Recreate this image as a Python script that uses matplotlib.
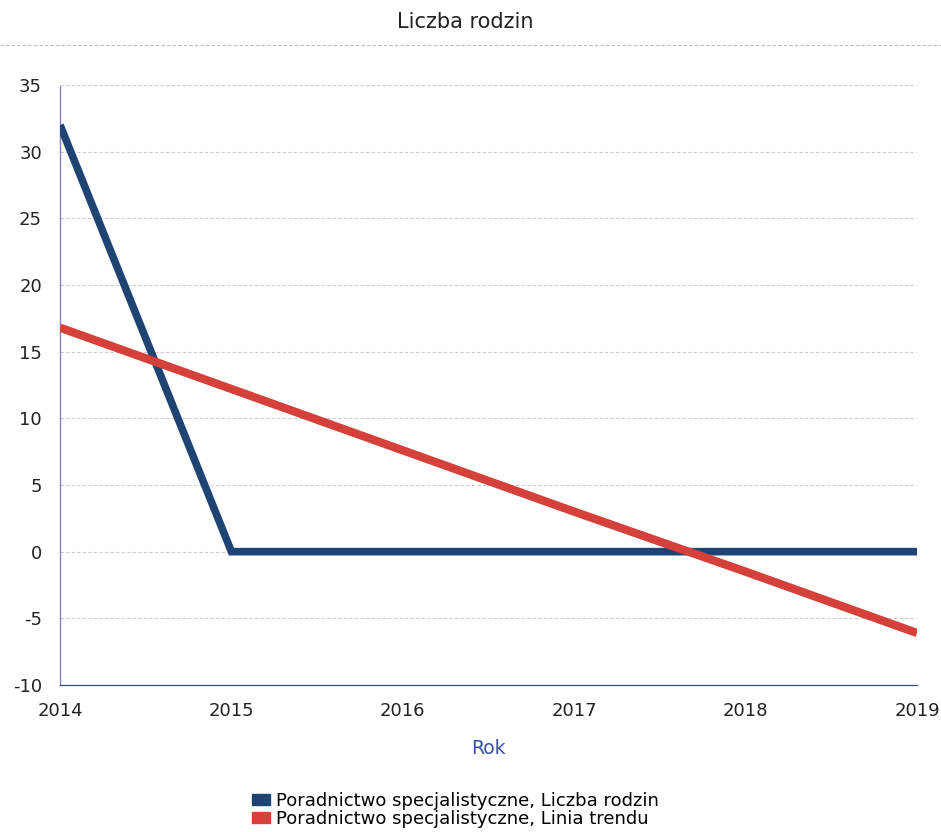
import matplotlib
matplotlib.use("Agg")
import matplotlib.pyplot as plt
from matplotlib.patches import Patch
from matplotlib.lines import Line2D

years = [2014, 2015, 2016, 2017, 2018, 2019]
liczba_rodzin = [32, 0, 0, 0, 0, 0]
linia_trendu = [16.8, 12.2, 7.6, 3.0, -1.5, -6.1]
yticks = [-10, -5, 0, 5, 10, 15, 20, 25, 30, 35]
title = "Liczba rodzin"
xlabel = "Rok"
labels = ["Poradnictwo specjalistyczne, Liczba rodzin",
          "Poradnictwo specjalistyczne, Linia trendu"]
c_blue = "#1f4474"
c_red = "#d6403a"

plt.rcParams['font.family'] = ['DejaVu Sans']
plt.rcParams['axes.unicode_minus'] = False
fig = plt.figure(figsize=(9.41, 8.32), dpi=100)
ax = fig.add_axes([0.0638, 0.1767, 0.9107, 0.7211])

ax.plot(years, liczba_rodzin, color=c_blue, lw=5.5, solid_capstyle='butt', solid_joinstyle='miter', zorder=3)
ax.plot(years, linia_trendu, color=c_red, lw=6, solid_capstyle='butt', zorder=4)

ax.set_xlim(2014, 2019)
ax.set_ylim(-10, 35)
ax.set_yticks(yticks)
ax.set_xticks(years)
ax.set_xticklabels([str(y) for y in years])
ax.grid(axis='y', color='#cccccc', linestyle=(0, (3, 2)), lw=0.8)
ax.tick_params(axis='both', length=0, labelsize=13, colors='#222222')
ax.tick_params(axis='y', pad=13)
ax.tick_params(axis='x', pad=12)
for s in ['top', 'right']:
    ax.spines[s].set_visible(False)
ax.spines['left'].set_color('#8a7fc0')
ax.spines['left'].set_linestyle((0, (1, 1)))
ax.spines['left'].set_linewidth(1.0)
ax.spines['bottom'].set_color('#3a4a7a')
ax.spines['bottom'].set_linewidth(0.9)

ax.set_xlabel(xlabel, color='#3b4f9f', fontsize=13.5, labelpad=14)

fig.text(0.494, 0.973, title, ha='center', va='center', fontsize=15, color='#222222')
fig.add_artist(Line2D([0.0, 1.0], [0.946, 0.946], color='#bbbbbb', lw=0.8,
                      linestyle=(0, (3, 2)), transform=fig.transFigure))

handles = [Patch(facecolor=c_blue, edgecolor=c_blue), Patch(facecolor=c_red, edgecolor=c_red)]
fig.legend(handles, labels, loc='center', bbox_to_anchor=(0.484, 0.0265), frameon=False,
           fontsize=13, handlelength=1.0, handleheight=0.55, handletextpad=0.3,
           labelspacing=0.0, borderpad=0)

fig.savefig("out.png", dpi=100)
